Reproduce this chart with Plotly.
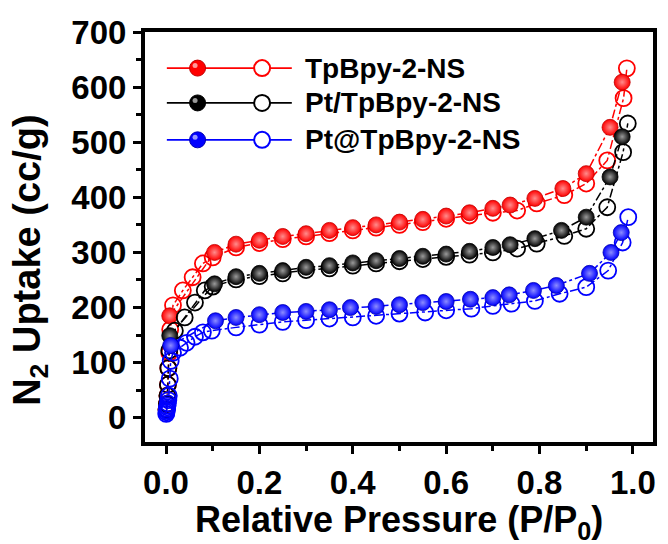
import plotly.graph_objects as go

names = ["TpBpy-2-NS", "Pt/TpBpy-2-NS", "Pt@TpBpy-2-NS"]
colors = ["#ff0000", "#000000", "#0000ff"]
glow = ["#ff8c8c", "#9a9a9a", "#8c8cff"]
edge = ["#c00000", "#000000", "#0000b0"]

# TpBpy-2-NS
red_ads_p = [0.008, 0.104, 0.15, 0.20, 0.25, 0.30, 0.35, 0.40, 0.45, 0.50, 0.55, 0.60, 0.65, 0.70, 0.737, 0.79, 0.85, 0.90, 0.951, 0.977]
red_ads_v = [185, 300, 315, 322, 329, 334, 340, 345, 350, 355, 360, 366, 372, 380, 386, 398, 416, 443, 527, 609]
red_des_p = [0.001, 0.002, 0.003, 0.004, 0.005, 0.007, 0.009, 0.015, 0.036, 0.057, 0.079, 0.10, 0.15, 0.20, 0.25, 0.30, 0.35, 0.40, 0.45, 0.50, 0.55, 0.60, 0.65, 0.70, 0.752, 0.794, 0.853, 0.90, 0.945, 0.98, 0.987]
red_des_v = [15, 25, 40, 60, 90, 118, 160, 204, 231, 255, 280, 291, 309, 317, 324, 329, 335, 340, 345, 350, 355, 361, 367, 372, 376, 389, 404, 425, 467, 580, 634]

# Pt/TpBpy-2-NS
blk_ads_p = [0.008, 0.104, 0.15, 0.20, 0.25, 0.30, 0.35, 0.40, 0.45, 0.50, 0.55, 0.60, 0.65, 0.70, 0.737, 0.79, 0.847, 0.90, 0.951, 0.977]
blk_ads_v = [149, 243, 256, 262, 267, 273, 276, 281, 285, 289, 293, 297, 302, 309, 314, 325, 340, 364, 437, 510]
blk_des_p = [0.001, 0.002, 0.003, 0.004, 0.005, 0.007, 0.019, 0.04, 0.062, 0.083, 0.10, 0.15, 0.20, 0.25, 0.30, 0.35, 0.40, 0.45, 0.50, 0.55, 0.60, 0.65, 0.70, 0.752, 0.794, 0.853, 0.90, 0.945, 0.979, 0.989]
blk_des_v = [15, 25, 40, 60, 90, 122, 158, 182, 209, 231, 238, 251, 257, 262, 268, 271, 276, 280, 284, 288, 292, 296, 300, 307, 316, 330, 343, 382, 482, 534]

# Pt@TpBpy-2-NS
blu_ads_p = [0.01, 0.106, 0.15, 0.20, 0.25, 0.30, 0.35, 0.395, 0.45, 0.50, 0.55, 0.60, 0.652, 0.70, 0.735, 0.787, 0.836, 0.907, 0.953, 0.975]
blu_ads_v = [131, 176, 182, 187, 191, 193, 196, 200, 202, 205, 209, 211, 215, 218, 223, 231, 240, 262, 300, 336]
blu_des_p = [0.0005, 0.001, 0.0015, 0.002, 0.0025, 0.003, 0.004, 0.005, 0.006, 0.008, 0.01, 0.015, 0.03, 0.044, 0.062, 0.079, 0.098, 0.15, 0.20, 0.25, 0.30, 0.35, 0.40, 0.45, 0.50, 0.555, 0.60, 0.654, 0.70, 0.74, 0.79, 0.843, 0.90, 0.947, 0.978, 0.99]
blu_des_v = [7, 10, 13, 16, 19, 22, 26, 32, 40, 71, 103, 118, 127, 136, 147, 155, 158, 164, 169, 174, 177, 180, 182, 185, 189, 191, 195, 198, 203, 207, 212, 225, 237, 267, 318, 364]

series = [
    (red_ads_p, red_ads_v, red_des_p, red_des_v),
    (blk_ads_p, blk_ads_v, blk_des_p, blk_des_v),
    (blu_ads_p, blu_ads_v, blu_des_p, blu_des_v),
]

x_ticks = [0.0, 0.2, 0.4, 0.6, 0.8, 1.0]
y_ticks = [0, 100, 200, 300, 400, 500, 600, 700]

FONT = "Liberation Sans"

fig = go.Figure()
for i, (ap, av, dp, dv) in enumerate(series):
    c = colors[i]
    fig.add_trace(go.Scatter(
        x=dp, y=dv, mode="lines+markers", name=names[i] + " (des)", showlegend=False,
        line=dict(color=c, width=1.5, dash="dashdot"),
        marker=dict(symbol="circle-open", size=16, color=c, line=dict(width=1.8, color=c)),
    ))
    fig.add_trace(go.Scatter(
        x=ap, y=av, mode="lines+markers", name=names[i], showlegend=False,
        line=dict(color=c, width=1.5, dash="dashdot"),
        marker=dict(symbol="circle", size=16, color=c,
                    gradient=dict(type="radial", color=glow[i]),
                    line=dict(width=0.8, color=edge[i])),
    ))

# Custom legend (line + filled sphere + open circle + label)
shapes = []
annotations = []
rows_y = [0.912, 0.827, 0.737]
for i, yv in enumerate(rows_y):
    c = colors[i]
    shapes.append(dict(type="line", xref="paper", yref="paper", x0=0.043, x1=0.289, y0=yv, y1=yv,
                       line=dict(color=c, width=1.8)))
    shapes.append(dict(type="circle", xref="paper", yref="paper", xsizemode="pixel", ysizemode="pixel",
                       xanchor=0.1035, yanchor=yv, x0=-8, x1=8, y0=-8, y1=8,
                       fillcolor=c, line=dict(color=edge[i], width=1)))
    shapes.append(dict(type="circle", xref="paper", yref="paper", xsizemode="pixel", ysizemode="pixel",
                       xanchor=0.1035, yanchor=yv, x0=-5, x1=0, y0=0, y1=5,
                       fillcolor="white", opacity=0.6, line=dict(width=0)))
    shapes.append(dict(type="circle", xref="paper", yref="paper", xsizemode="pixel", ysizemode="pixel",
                       xanchor=0.2305, yanchor=yv, x0=-8, x1=8, y0=-8, y1=8,
                       fillcolor="white", line=dict(color=c, width=2)))
    annotations.append(dict(text=names[i], xref="paper", yref="paper", x=0.3105, y=yv,
                            xanchor="left", yanchor="middle", showarrow=False,
                            font=dict(family=FONT, size=28, color="black", weight="bold")))

annotations.append(dict(text="Relative Pressure (P/P<sub>0</sub>)", xref="paper", yref="paper",
                        x=0.5, y=-0.195, xanchor="center", yanchor="middle", showarrow=False,
                        font=dict(family=FONT, size=36, color="black", weight="bold")))
annotations.append(dict(text="N<sub>2</sub> Uptake (cc/g)", xref="paper", yref="paper",
                        x=-0.2266, y=0.444, xanchor="center", yanchor="middle", showarrow=False,
                        textangle=-90,
                        font=dict(family=FONT, size=38, color="black", weight="bold")))

axis_common = dict(showline=True, linewidth=4, linecolor="black", mirror=True,
                   ticks="outside", ticklen=8, tickwidth=3, tickcolor="black",
                   showgrid=False, zeroline=False,
                   tickfont=dict(family=FONT, size=33, color="black", weight="bold"))

fig.update_layout(
    width=668, height=544,
    margin=dict(l=145, r=11, t=32, b=102),
    plot_bgcolor="white", paper_bgcolor="white",
    xaxis=dict(range=[-0.045, 1.043], tickvals=x_ticks, ticktext=[f"{v:.1f}" for v in x_ticks],
               minor=dict(ticks="outside", ticklen=5, tickwidth=3, tickcolor="black", dtick=0.1, tick0=0),
               **axis_common),
    yaxis=dict(range=[-44, 700], tickvals=y_ticks, ticktext=[str(v) for v in y_ticks],
               minor=dict(ticks="outside", ticklen=5, tickwidth=3, tickcolor="black", dtick=50, tick0=0),
               **axis_common),
    shapes=shapes,
    annotations=annotations,
    showlegend=False,
)

fig.write_html("out.html")
